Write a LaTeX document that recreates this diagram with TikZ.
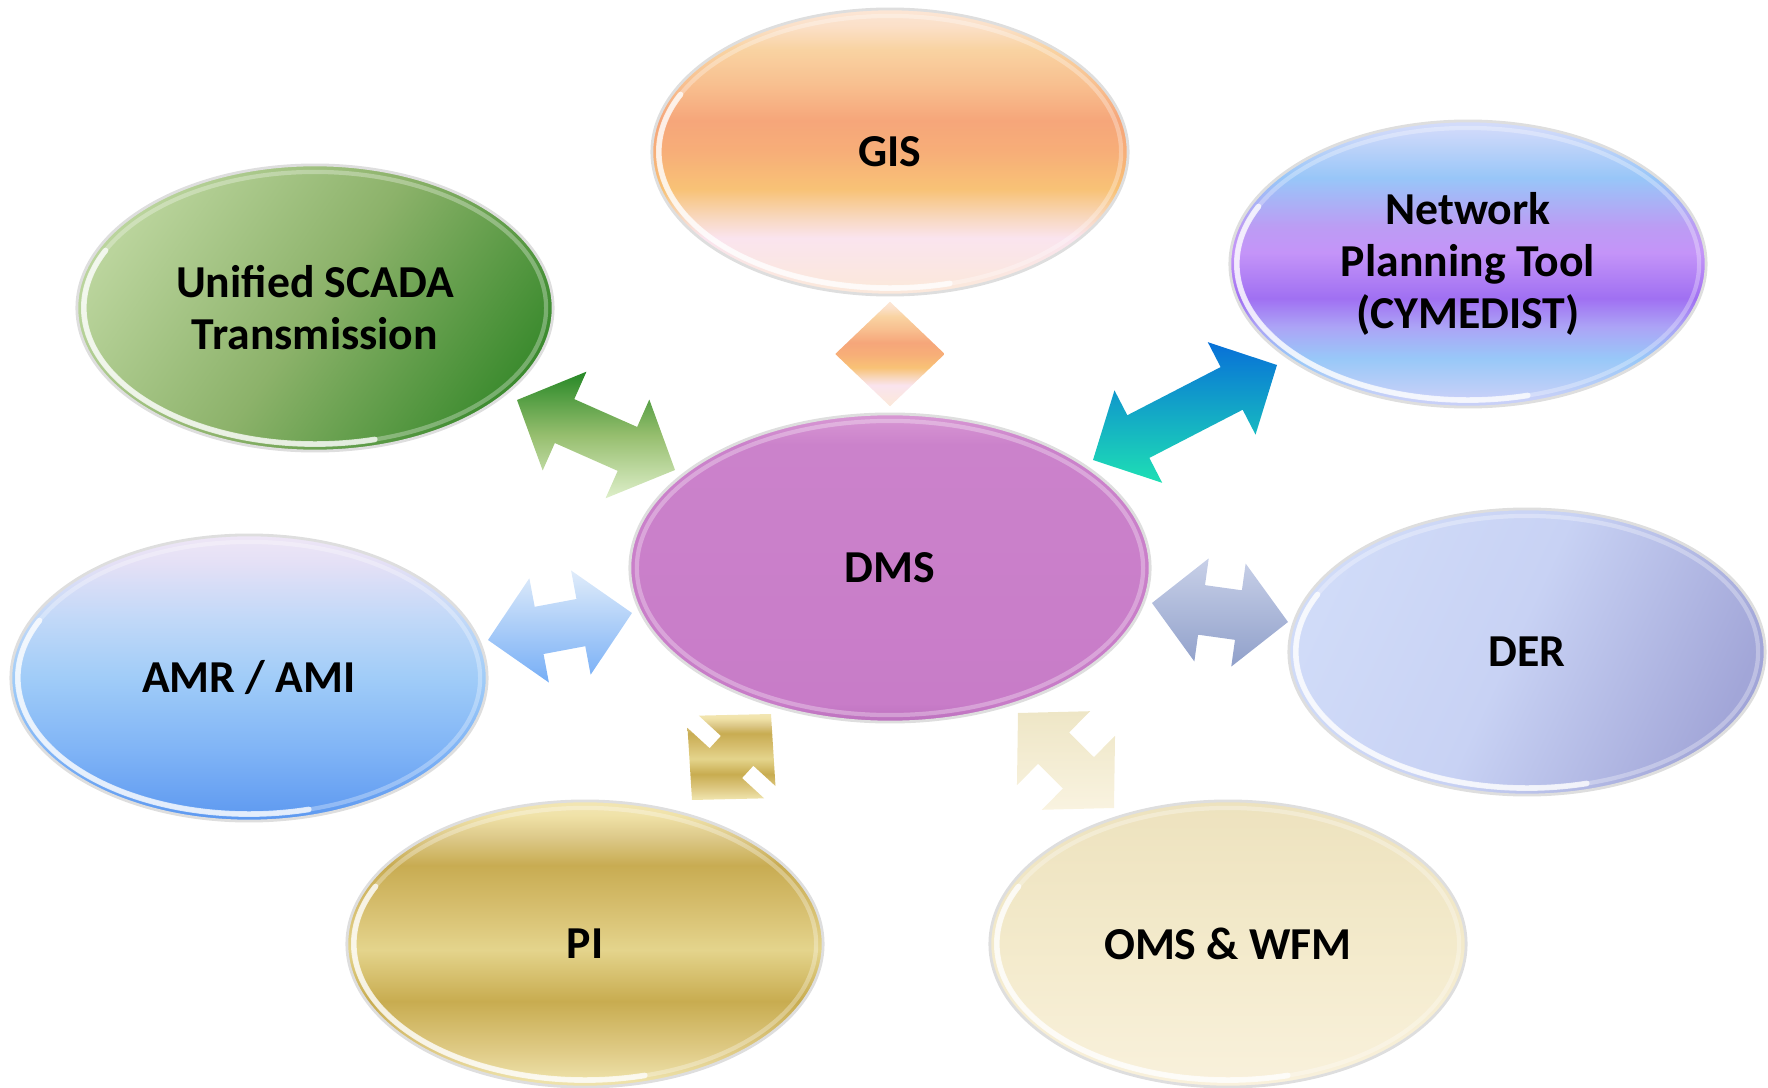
\documentclass[tikz,border=0pt]{standalone}
\usepackage{fontspec}
\setmainfont{Carlito}
\usetikzlibrary{calc,shapes.geometric}

% ---------- colours ----------
\definecolor{gisA}{HTML}{FCE6D6}\definecolor{gisB}{HTML}{FBE0C8}
\definecolor{gisC}{HTML}{F9D3A2}\definecolor{gisD}{HTML}{F8C090}
\definecolor{gisE}{HTML}{F6A67A}\definecolor{gisF}{HTML}{F7AE78}
\definecolor{gisG}{HTML}{F8C276}\definecolor{gisH}{HTML}{F8D8C0}
\definecolor{gisI}{HTML}{FAE4EE}\definecolor{gisJ}{HTML}{FBE8DC}

\definecolor{netA}{HTML}{D4DCFA}\definecolor{netB}{HTML}{CCD8FA}
\definecolor{netC}{HTML}{98C6F8}\definecolor{netD}{HTML}{BC9CF4}
\definecolor{netE}{HTML}{C494F8}\definecolor{netF}{HTML}{A070F2}
\definecolor{netG}{HTML}{ACA4F6}\definecolor{netH}{HTML}{98C8F8}
\definecolor{netI}{HTML}{C8D0F8}

\definecolor{piA}{HTML}{F2E6B4}\definecolor{piB}{HTML}{F0E2A8}
\definecolor{piC}{HTML}{DCC888}\definecolor{piD}{HTML}{C8AC52}
\definecolor{piE}{HTML}{D6BE6E}\definecolor{piF}{HTML}{E4D48C}
\definecolor{piG}{HTML}{C8AC50}\definecolor{piH}{HTML}{E0CC88}
\definecolor{piI}{HTML}{EEE2AA}

\definecolor{amrA}{HTML}{EEE6F6}\definecolor{amrB}{HTML}{E4E0F6}
\definecolor{amrC}{HTML}{C0D8F8}\definecolor{amrD}{HTML}{A0CCF8}
\definecolor{amrE}{HTML}{80B4F6}\definecolor{amrF}{HTML}{5C98F0}

\definecolor{omsA}{HTML}{EDE2BE}\definecolor{omsB}{HTML}{F3EACB}
\definecolor{omsC}{HTML}{F9F1DC}

\definecolor{scA}{HTML}{C6DEAA}\definecolor{scB}{HTML}{BAD49C}
\definecolor{scC}{HTML}{8CB26A}\definecolor{scD}{HTML}{3E8C30}
\definecolor{scE}{HTML}{2E7A24}

\definecolor{derA}{HTML}{D6E0FA}\definecolor{derB}{HTML}{D0DBF8}
\definecolor{derC}{HTML}{C8D2F4}\definecolor{derD}{HTML}{A2A6D8}
\definecolor{derE}{HTML}{9498D0}

\definecolor{dmsA}{HTML}{D898D4}\definecolor{dmsB}{HTML}{CB82CB}
\definecolor{dmsC}{HTML}{C87CC8}\definecolor{dmsD}{HTML}{BC70BE}

% ---------- shadings (bottom = 0bp, top = 100bp; the shape spans 25bp..75bp) ----------
\pgfdeclareverticalshading{gisShade}{100bp}{%
  color(0bp)=(gisJ); color(26.5bp)=(gisJ); color(35bp)=(gisI); color(38.5bp)=(gisH);
  color(43.5bp)=(gisG); color(50bp)=(gisF); color(55.5bp)=(gisE); color(62bp)=(gisD);
  color(68bp)=(gisC); color(72bp)=(gisB); color(75bp)=(gisA); color(100bp)=(gisA)}
\pgfdeclareverticalshading{netShade}{100bp}{%
  color(0bp)=(netI); color(26.5bp)=(netI); color(33.5bp)=(netH); color(39bp)=(netG);
  color(44bp)=(netF); color(52bp)=(netE); color(56.5bp)=(netD); color(65bp)=(netC);
  color(73bp)=(netB); color(75bp)=(netA); color(100bp)=(netA)}
\pgfdeclareverticalshading{piShade}{100bp}{%
  color(0bp)=(piI); color(26bp)=(piI); color(31bp)=(piH); color(40bp)=(piG);
  color(49bp)=(piF); color(56.5bp)=(piE); color(63.75bp)=(piD); color(68.5bp)=(piC);
  color(72.5bp)=(piB); color(75bp)=(piA); color(100bp)=(piA)}
\pgfdeclareverticalshading{amrShade}{100bp}{%
  color(0bp)=(amrF); color(25bp)=(amrF); color(37.5bp)=(amrE); color(50bp)=(amrD);
  color(60bp)=(amrC); color(70bp)=(amrB); color(75bp)=(amrA); color(100bp)=(amrA)}
\pgfdeclareverticalshading{omsShade}{100bp}{%
  color(0bp)=(omsC); color(25bp)=(omsC); color(50bp)=(omsB); color(75bp)=(omsA);
  color(100bp)=(omsA)}
\pgfdeclareverticalshading{dmsShade}{100bp}{%
  color(0bp)=(dmsD); color(25bp)=(dmsD); color(28bp)=(dmsC); color(70bp)=(dmsB);
  color(75bp)=(dmsA); color(100bp)=(dmsA)}
\pgfdeclarehorizontalshading{scadaShade}{100bp}{%
  color(0bp)=(scA); color(25bp)=(scB); color(50bp)=(scC); color(75bp)=(scD);
  color(100bp)=(scE)}
\pgfdeclarehorizontalshading{derShade}{100bp}{%
  color(0bp)=(derA); color(25bp)=(derB); color(48bp)=(derC); color(75bp)=(derD);
  color(100bp)=(derE)}

% double-headed block arrow between two tip points
% #1 style, #2 tip A, #3 tip B, #4 head length, #5 head half width, #6 shaft half width
\newcommand\dblblock[6]{%
  \path[#1] (#2)
    -- ($(#2)!#4!(#3)!#5!90:(#3)$)
    -- ($(#2)!#4!(#3)!#6!90:(#3)$)
    -- ($(#3)!#4!(#2)!#6!-90:(#2)$)
    -- ($(#3)!#4!(#2)!#5!-90:(#2)$)
    -- (#3)
    -- ($(#3)!#4!(#2)!#5!90:(#2)$)
    -- ($(#3)!#4!(#2)!#6!90:(#2)$)
    -- ($(#2)!#4!(#3)!#6!-90:(#3)$)
    -- ($(#2)!#4!(#3)!#5!-90:(#3)$)
    -- cycle;}

\tikzset{
  bubble/.style={ellipse, inner sep=0pt, minimum width=4.76cm, minimum height=2.86cm,
    draw=black!13, line width=0.8pt, shade, align=center, text=black,
    font=\fontsize{13}{14.8}\selectfont\bfseries},
  rim/.style={draw=white, opacity=0.3, line width=1.2pt},
  glint/.style={draw=white, opacity=0.75, line width=1.6pt, line cap=round},
  blk/.style={shade}
}

\begin{document}
\begin{tikzpicture}[x=0.01cm, y=-0.01cm]
\useasboundingbox (0,0) rectangle (1768,1088);

% ---------- the eight systems ----------
\node[bubble, shading=gisShade] (gis) at (890,152) {GIS};
\node[bubble, shading=scadaShade, shading angle=-35] (scada) at (315,308) {Unified SCADA\\Transmission};
\node[bubble, shading=netShade] (net) at (1468,264) {Network\\Planning Tool\\(CYMEDIST)};
\node[bubble, shading=amrShade] (amr) at (249,678) {AMR / AMI};
\node[bubble, shading=derShade, shading angle=-25] (der) at (1527,652) {DER};
\node[bubble, shading=piShade] (pi) at (585,944) {PI};
\node[bubble, shading=omsShade] (oms) at (1228,944) {OMS \& WFM};
\node[bubble, shading=dmsShade, minimum width=5.2cm, minimum height=3.08cm] (dms) at (890,568) {DMS};

% soft bevel highlight of each bubble, brightest along the lower left
\foreach \n in {gis,scada,net,amr,der,pi,oms}{
  \draw[rim] (\n.center) ellipse [x radius=2.31cm, y radius=1.36cm];
  \draw[glint] ($(\n.center)+(155:2.31cm and 1.36cm)$)
    arc [start angle=155, end angle=285, x radius=2.31cm, y radius=1.36cm];
}
\draw[rim] (dms.center) ellipse [x radius=2.53cm, y radius=1.47cm];

% ---------- arrow end points ----------
\coordinate (scT) at (517,400);  \coordinate (scD) at (675,470);
\coordinate (ntD) at (1093,460); \coordinate (ntT) at (1277,365);
\coordinate (amT) at (488,640);  \coordinate (amD) at (632,613);
\coordinate (drD) at (1152,603); \coordinate (drT) at (1288,622);
\coordinate (piT) at (692,800);  \coordinate (piD) at (771,714);
\coordinate (omD) at (1018,713); \coordinate (omT) at (1114,808);

% ---------- links to DMS ----------
\dblblock{blk, top color=green!45!black!85, bottom color={rgb,255:red,222;green,239;blue,202}, middle color={rgb,255:red,150;green,190;blue,110}}{scT}{scD}{0.52cm}{0.54cm}{0.24cm}
\dblblock{blk, top color={rgb,255:red,8;green,112;blue,216}, middle color={rgb,255:red,16;green,168;blue,226}, bottom color={rgb,255:red,30;green,224;blue,180}}{ntD}{ntT}{0.51cm}{0.52cm}{0.24cm}
\dblblock{blk, top color={rgb,255:red,224;green,236;blue,250}, bottom color={rgb,255:red,118;green,174;blue,246}}{amT}{amD}{0.52cm}{0.53cm}{0.24cm}
\dblblock{blk, top color={rgb,255:red,200;green,208;blue,232}, bottom color={rgb,255:red,144;green,160;blue,202}}{drD}{drT}{0.50cm}{0.52cm}{0.25cm}
\dblblock{blk, shading=piShade}{piT}{piD}{0.50cm}{0.52cm}{0.22cm}
\dblblock{blk, top color={rgb,255:red,238;green,230;blue,198}, bottom color={rgb,255:red,249;green,243;blue,224}}{omD}{omT}{0.50cm}{0.52cm}{0.22cm}

% GIS link
\node[diamond, shade, shading=gisShade, inner sep=0pt, minimum width=1.1cm, minimum height=1.05cm] (gislink) at (890,354) {};
\end{tikzpicture}
\end{document}
